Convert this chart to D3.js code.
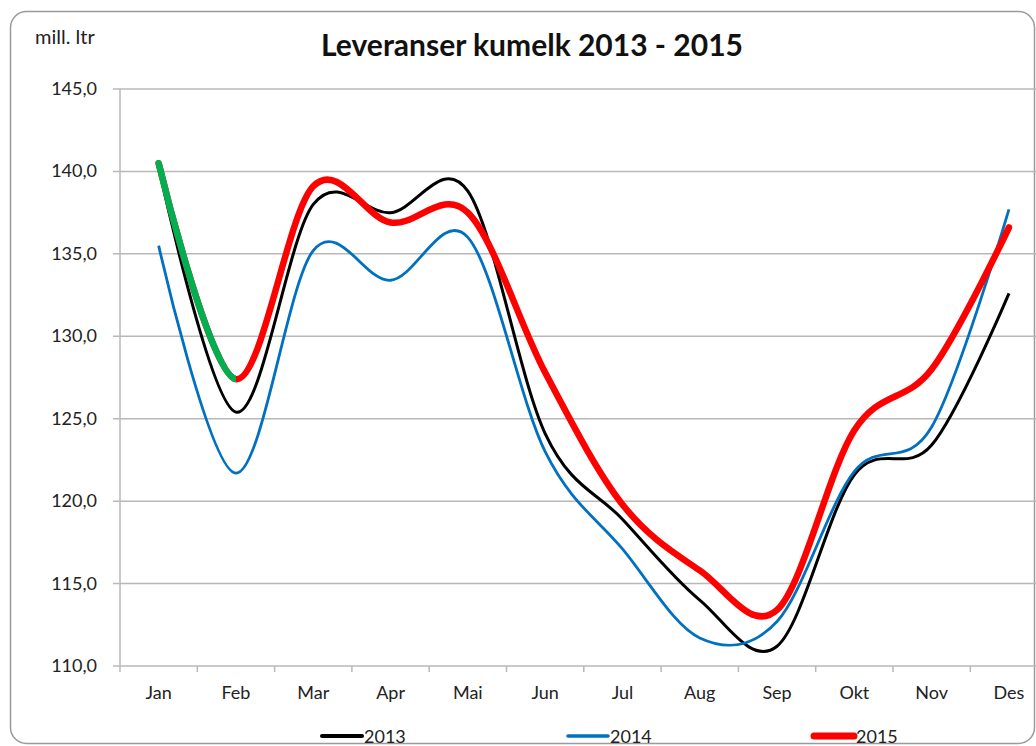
<!DOCTYPE html>
<html>
<head>
<meta charset="utf-8">
<script src="https://cdn.jsdelivr.net/npm/d3@7"></script>
<style>
  body{margin:0;background:#fff;}
  svg{display:block;font-family:Lato,"Open Sans",sans-serif;}
</style>
</head>
<body>
<svg id="chart"></svg>
<script>
// data
var months=["Jan","Feb","Mar","Apr","Mai","Jun","Jul","Aug","Sep","Okt","Nov","Des"];
var v2013=[140.3,125.4,138.0,137.5,138.8,124.1,118.9,114.0,111.2,121.6,123.4,132.6];
var v2014=[135.5,121.7,135.2,133.4,136.0,123.0,117.1,111.7,112.7,121.8,124.5,137.7];
var v2015=[140.5,127.4,139.1,136.9,137.5,127.8,119.8,115.8,113.4,124.3,128.0,136.6];
var yTicks=[110,115,120,125,130,135,140,145];
var seriesNames=["2013","2014","2015"];

var W=1036,H=746;
var svg=d3.select("#chart").attr("width",W).attr("height",H);

var margins={top:89,left:120};
var plotRight=1047.6, plotBottom=666;

// frame
svg.append("rect")
   .attr("x",10.5).attr("y",11.5)
   .attr("width",1024).attr("height",732)
   .attr("rx",16).attr("ry",16)
   .attr("fill","#fff")
   .attr("stroke","#9a9a9a")
   .attr("stroke-width",1.5);

var xScale=d3.scaleBand()
             .domain(months)
             .range([margins.left,plotRight])
             .paddingInner(0).paddingOuter(0);
var yScale=d3.scaleLinear()
             .domain([110,145])
             .range([plotBottom,margins.top]);
var cx=function(m){return xScale(m)+xScale.bandwidth()/2;};

// gridlines
svg.append("g").selectAll("line")
   .data(yTicks)
   .enter().append("line")
   .attr("x1",margins.left-7).attr("x2",plotRight)
   .attr("y1",function(d){return yScale(d);})
   .attr("y2",function(d){return yScale(d);})
   .attr("stroke","#b8b8b8").attr("stroke-width",1.5);

// y axis line
svg.append("line")
   .attr("x1",margins.left).attr("x2",margins.left)
   .attr("y1",margins.top).attr("y2",plotBottom)
   .attr("stroke","#b8b8b8").attr("stroke-width",1.5);

// x tick marks at band edges
var edges=months.map(function(m){return xScale(m);}).concat([plotRight]);
svg.append("g").selectAll("line")
   .data(edges)
   .enter().append("line")
   .attr("x1",function(d){return d;}).attr("x2",function(d){return d;})
   .attr("y1",plotBottom).attr("y2",plotBottom+6)
   .attr("stroke","#b8b8b8").attr("stroke-width",1.5);

// y labels
svg.append("g").selectAll("text")
   .data(yTicks)
   .enter().append("text")
   .attr("x",97)
   .attr("y",function(d){return yScale(d)+6;})
   .attr("text-anchor","end")
   .attr("font-size",18)
   .attr("fill","#222")
   .text(function(d){return d3.format(".1f")(d).replace(".",",");});

// x labels
svg.append("g").selectAll("text")
   .data(months)
   .enter().append("text")
   .attr("x",function(d){return cx(d);})
   .attr("y",699)
   .attr("text-anchor","middle")
   .attr("font-size",18)
   .attr("fill","#222")
   .text(function(d){return d;});

// title and unit
svg.append("text")
   .attr("x",532).attr("y",56)
   .attr("text-anchor","middle")
   .attr("font-size",30).attr("font-weight","bold")
   .attr("fill","#111")
   .text("Leveranser kumelk 2013 - 2015");
svg.append("text")
   .attr("x",35).attr("y",44)
   .attr("font-size",20)
   .attr("fill","#222")
   .text("mill. ltr");

// lines (uniform catmull-rom, like excel's smoothing)
var line=d3.line()
           .x(function(d,i){return cx(months[i]);})
           .y(function(d){return yScale(d);})
           .curve(d3.curveCatmullRom.alpha(0));

svg.append("path").datum(v2013)
   .attr("d",line).attr("fill","none")
   .attr("stroke","#000").attr("stroke-width",3);
svg.append("path").datum(v2014)
   .attr("d",line).attr("fill","none")
   .attr("stroke","#0070c0").attr("stroke-width",2.8);
svg.append("path").datum(v2015)
   .attr("d",line).attr("fill","none")
   .attr("stroke","#ff0000").attr("stroke-width",6.5)
   .attr("stroke-linecap","round");

// first segment of 2015 is green
svg.append("clipPath").attr("id","janfeb")
   .append("rect")
   .attr("x",0).attr("y",0)
   .attr("width",cx("Feb")).attr("height",H);
svg.append("path").datum(v2015)
   .attr("d",line).attr("fill","none")
   .attr("clip-path","url(#janfeb)")
   .attr("stroke","#00b050").attr("stroke-width",6.5)
   .attr("stroke-linecap","round");

// legend
var legendColors=["#000","#0070c0","#ff0000"];
var legendWidths=[4,3.5,7];
var legend=svg.append("g").selectAll("g")
              .data(seriesNames)
              .enter().append("g")
              .attr("transform",function(d,i){return "translate("+(322+i*246)+",736)";});
legend.append("line")
      .attr("x1",0).attr("x2",40).attr("y1",0).attr("y2",0)
      .attr("stroke",function(d,i){return legendColors[i];})
      .attr("stroke-width",function(d,i){return legendWidths[i];})
      .attr("stroke-linecap","round");
legend.append("text")
      .attr("x",42).attr("y",7)
      .attr("font-size",18)
      .attr("fill","#222")
      .text(function(d){return d;});
</script>
</body>
</html>
